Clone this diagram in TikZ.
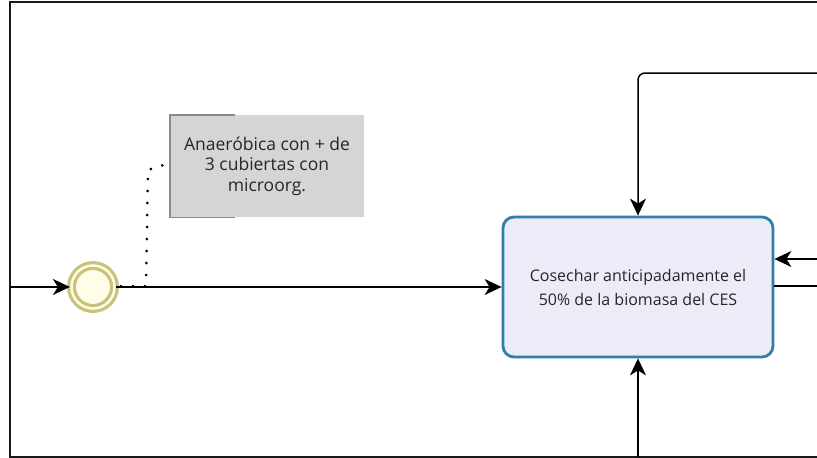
\documentclass[tikz,border=0pt]{standalone}
\usepackage{fontspec}
\setmainfont{Open Sans}
\usetikzlibrary{arrows.meta}
\definecolor{txt}{HTML}{262626}
\definecolor{taskblue}{HTML}{2F7FA8}
\definecolor{taskfill}{HTML}{ECECF8}
\definecolor{ringcol}{HTML}{C9C27A}
\definecolor{evfill}{HTML}{FFFCE8}
\definecolor{annfill}{HTML}{D5D5D5}
\definecolor{annedge}{HTML}{8A8A8A}
\tikzset{
  flow/.style={draw=black, line width=1.5pt, -{Stealth[length=17pt,width=16pt,inset=5pt]}},
  plain/.style={draw=black, line width=1.5pt},
  frame/.style={draw=black!90, line width=1.8pt},
  taskbox/.style={draw=taskblue, line width=2.8pt, fill=taskfill, rounded corners=11pt,
    minimum width=270pt, minimum height=140pt, inner sep=0pt, align=center,
    font=\fontsize{16}{24}\selectfont, text=txt},
  annbox/.style={fill=annfill, draw=none, minimum width=194pt, minimum height=102pt,
    inner sep=0pt, align=center, font=\fontsize{17.5}{20.5}\selectfont, text=txt},
  assoc/.style={draw=black, line width=3pt, line cap=round, dash pattern=on 0pt off 12pt},
  startev/.style={circle, draw=ringcol, line width=3.2pt, double=evfill, double distance=2.5pt,
    fill=evfill, minimum size=43pt, inner sep=0pt}
}
\begin{document}
\begin{tikzpicture}[x=1pt,y=-1pt]
\useasboundingbox (0,0) rectangle (817,458);
% frame
\coordinate (ftl) at (10,2);
\coordinate (ftr) at (817,2);
\coordinate (fbl) at (10,457);
\coordinate (fbr) at (817,457);
\draw[frame] (ftr) -- (ftl) -- (fbl) -- (fbr);
% annotation
\node[annbox] (ann) at (267,166) {Anaeróbica con + de\\3 cubiertas con\\microorg.};
\draw[annedge, line width=1.4pt] ([xshift=65pt]ann.north west) -- (ann.north west) -- (ann.south west) -- ([xshift=65pt]ann.south west);
% start event
\node[startev] (start) at (93,287) {};
% task
\node[taskbox] (task) at (638,287) {Cosechar anticipadamente el\\50\% de la biomasa del CES};
% in-coming from left
\coordinate (inL) at (10,287);
\draw[flow] (inL) -- (start);
\draw[flow] (start) -- (task.west);
% association
\coordinate (a1) at (121,286);
\coordinate (a2) at (146,286);
\coordinate (a3) at (148,170);
\draw[assoc] (a1) -- (a2) -- (a3) -- (ann.west |- 0,163);
% top loop
\coordinate (tr) at (817,73);
\coordinate (tc) at (638,73);
\draw[flow, rounded corners=7pt] (tr) -- (tc) -- (task.north);
% bottom
\coordinate (bb) at (638,457);
\draw[flow] (bb) -- (task.south);
% right in
\coordinate (ri) at (817,259);
\draw[flow] (ri) -- (task.east |- ri);
% right out
\coordinate (ro) at (817,286);
\draw[plain] (task.east |- ro) -- (ro);
\end{tikzpicture}
\end{document}
